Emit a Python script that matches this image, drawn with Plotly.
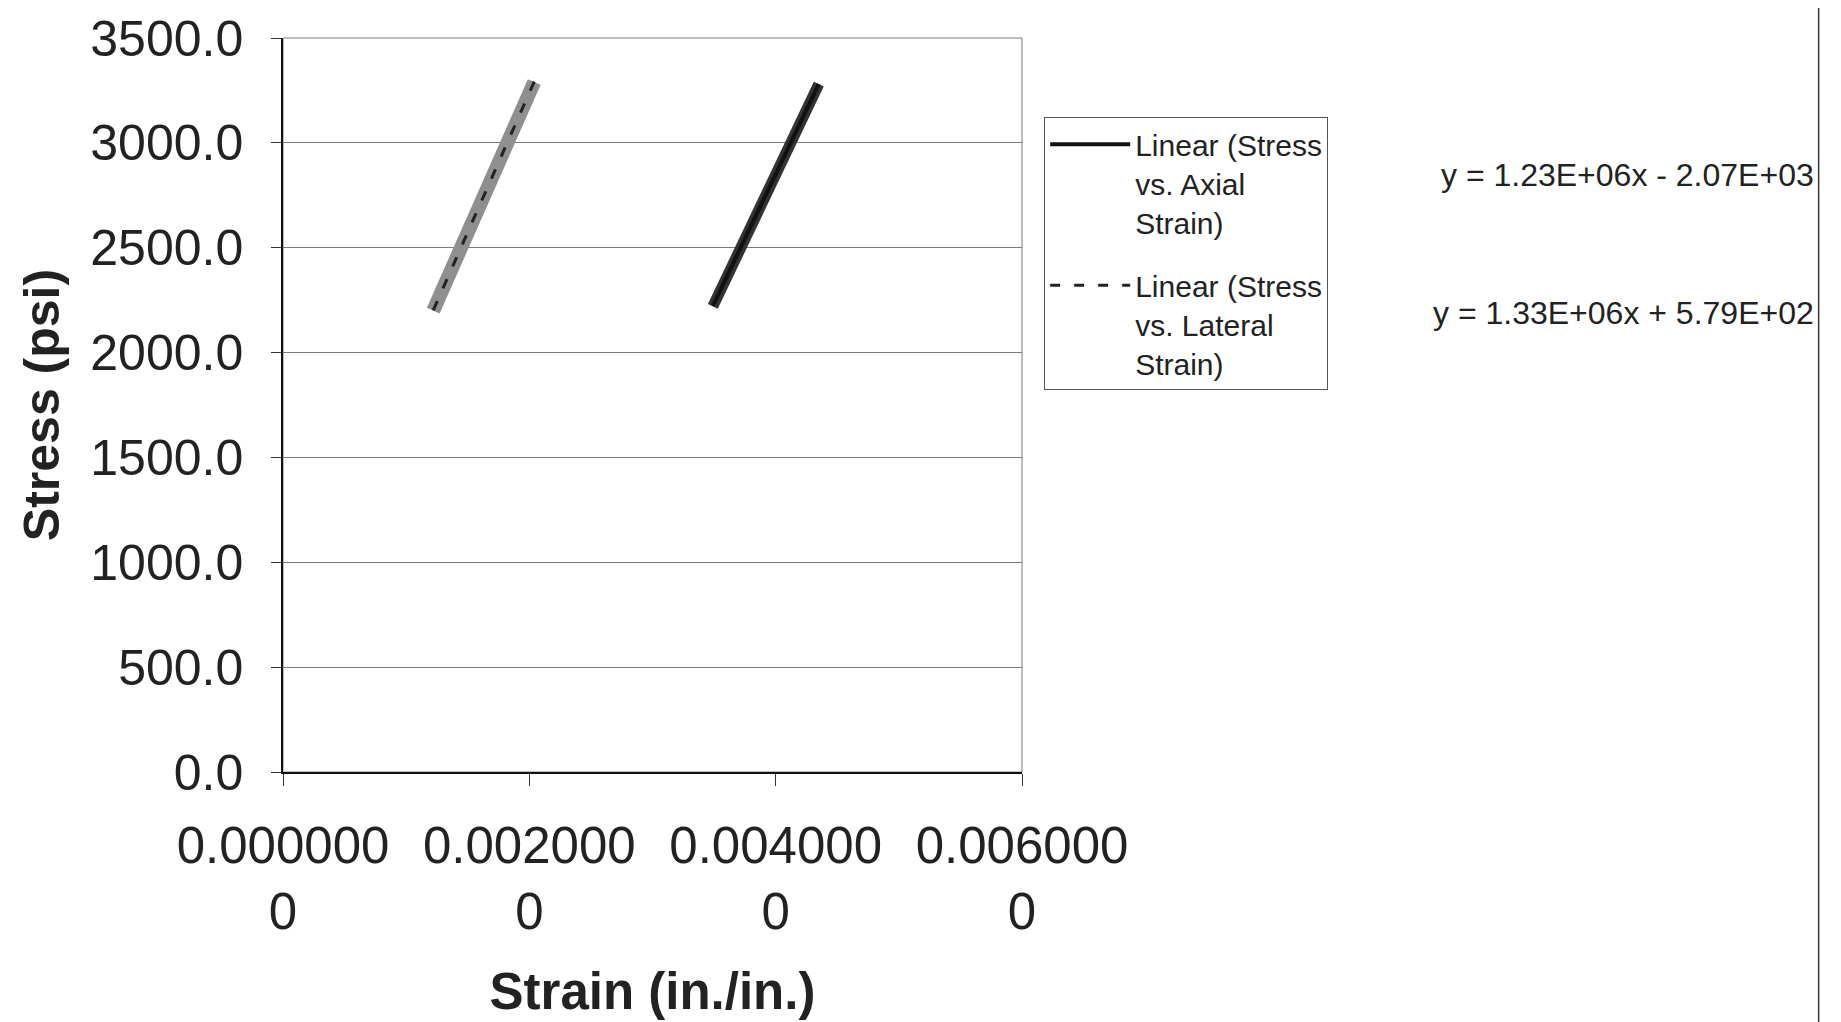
import plotly.graph_objects as go

# ---- data ----
stress_axial = [2220, 2400, 2600, 2800, 3000, 3200, 3280]
strain_axial = [0.003490, 0.003635, 0.003795, 0.003960, 0.004120, 0.004285, 0.004350]

stress_lateral = [2200, 2400, 2600, 2800, 3000, 3200, 3290]
strain_lateral = [0.001220, 0.001370, 0.001520, 0.001670, 0.001820, 0.001970, 0.002040]

# trendline coefficients shown on the chart (slope, intercept)
axial_fit = [1.23e6, -2.07e3]
lateral_fit = [1.33e6, 5.79e2]
eq_axial = "y = 1.23E+06x - 2.07E+03"
eq_lateral = "y = 1.33E+06x + 5.79E+02"

x_tickvals = [0.0, 0.002, 0.004, 0.006]
x_ticktext = ["0.000000<br>0", "0.002000<br>0", "0.004000<br>0", "0.006000<br>0"]
y_tickvals = [0, 500, 1000, 1500, 2000, 2500, 3000, 3500]

FONT = "Liberation Sans, Arial, sans-serif"
TXT = "#222222"

fig = go.Figure()

# data series (drawn as thick bands)
fig.add_trace(go.Scatter(x=strain_lateral, y=stress_lateral, mode="lines",
                         line=dict(color="#8f8f8f", width=14), showlegend=False,
                         hoverinfo="skip"))
fig.add_trace(go.Scatter(x=strain_axial, y=stress_axial, mode="lines",
                         line=dict(color="#333333", width=11), showlegend=False,
                         hoverinfo="skip"))

# trendlines
ax_x = [min(strain_axial), max(strain_axial)]
lat_x = [min(strain_lateral), max(strain_lateral)]
fig.add_trace(go.Scatter(x=ax_x, y=[axial_fit[0] * v + axial_fit[1] for v in ax_x],
                         mode="lines", line=dict(color="#111111", width=4),
                         name="Linear (Stress<br>vs. Axial<br>Strain)", legendgroup="a"))
fig.add_trace(go.Scatter(x=lat_x, y=[lateral_fit[0] * v + lateral_fit[1] for v in lat_x],
                         mode="lines", line=dict(color="#222222", width=3, dash="10px,14px"),
                         name="Linear (Stress<br>vs. Lateral<br>Strain)", legendgroup="b"))

fig.update_layout(
    width=1841, height=1022,
    margin=dict(l=275, r=827, t=30, b=258),
    paper_bgcolor="white", plot_bgcolor="white",
    font=dict(family=FONT, color=TXT),
    legend=dict(x=1.03, y=0.892, xanchor="left", yanchor="top", valign="top",
                bgcolor="white", bordercolor="#555555", borderwidth=1,
                font=dict(size=30, family=FONT, color=TXT),
                itemwidth=80, tracegroupgap=21, traceorder="grouped"),
    showlegend=True,
)

fig.update_xaxes(range=[0, 0.006], tickvals=x_tickvals, ticktext=x_ticktext,
                 automargin=False, ticklabeloverflow="allow",
                 showgrid=False, zeroline=False, showline=True, linecolor="#111111",
                 linewidth=1.5, ticks="outside", ticklen=12, tickcolor="#333333",
                 tickfont=dict(size=51, family=FONT, color=TXT),
                 ticklabelstandoff=16,
                 title=dict(text="<b>Strain (in./in.)</b>", font=dict(size=51, family=FONT, color=TXT),
                            standoff=34))
fig.update_yaxes(range=[0, 3500], tickvals=y_tickvals, tickformat=".1f",
                 automargin=False, ticklabeloverflow="allow",
                 showgrid=True, gridcolor="#7a7a7a", gridwidth=1, zeroline=False,
                 showline=True, linecolor="#111111", linewidth=1.5,
                 ticks="outside", ticklen=10, tickcolor="#333333",
                 tickfont=dict(size=50, family=FONT, color=TXT),
                 ticklabelstandoff=18,
                 title=dict(text="<b>Stress (psi)</b>", font=dict(size=50, family=FONT, color=TXT),
                            standoff=15))

# plot-area border (top/right) and chart-area right edge
fig.add_shape(type="rect", xref="x domain", yref="y domain", x0=0, x1=1, y0=0, y1=1,
              line=dict(color="#7a7a7a", width=1), layer="below")
fig.add_shape(type="line", xref="paper", yref="paper", x0=2.078, x1=2.078, y0=-0.35, y1=1.041,
              line=dict(color="#333333", width=1.5))

fig.add_annotation(text=eq_axial, xref="paper", yref="paper", x=2.074, y=0.813,
                   xanchor="right", yanchor="middle", showarrow=False,
                   font=dict(size=32, family=FONT, color=TXT))
fig.add_annotation(text=eq_lateral, xref="paper", yref="paper", x=2.074, y=0.626,
                   xanchor="right", yanchor="middle", showarrow=False,
                   font=dict(size=32, family=FONT, color=TXT))

fig.write_html("out.html")
